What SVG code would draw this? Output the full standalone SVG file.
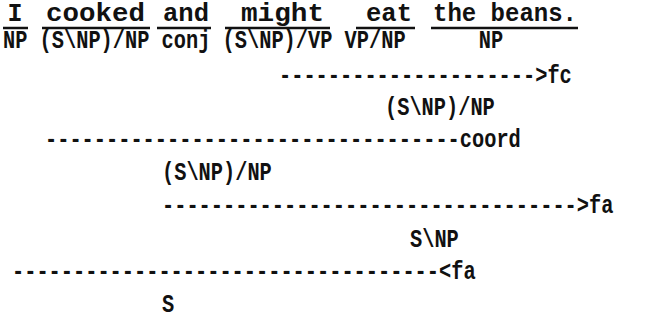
<svg xmlns="http://www.w3.org/2000/svg" width="655" height="327" viewBox="0 0 655 327">
  <style>
    text { font-family: "Liberation Mono", "Courier New", monospace; font-weight: bold; font-size: 25px; fill: #111; }
    .ul { stroke: #111; stroke-width: 2.5; }
  </style>
  <rect width="655" height="327" fill="#fff"/>

  <!-- lexical entries: word, underline, category -->
  <g id="w-i">
    <text x="15" y="21" text-anchor="middle">I</text>
    <line class="ul" x1="3" y1="28" x2="28" y2="28"/>
    <text x="3" y="48" textLength="24.4" lengthAdjust="spacingAndGlyphs">NP</text>
  </g>
  <g id="w-cooked">
    <text x="46" y="21" textLength="99" lengthAdjust="spacingAndGlyphs">cooked</text>
    <line class="ul" x1="42" y1="28" x2="150" y2="28"/>
    <text x="39.6" y="48" textLength="109.8" lengthAdjust="spacingAndGlyphs">(S\NP)/NP</text>
  </g>
  <g id="w-and">
    <text x="163" y="21" textLength="46" lengthAdjust="spacingAndGlyphs">and</text>
    <line class="ul" x1="157" y1="28" x2="211" y2="28"/>
    <text x="161.6" y="48" textLength="48.8" lengthAdjust="spacingAndGlyphs">conj</text>
  </g>
  <g id="w-might">
    <text x="241" y="21" textLength="83" lengthAdjust="spacingAndGlyphs">might</text>
    <line class="ul" x1="225" y1="28" x2="330" y2="28"/>
    <text x="222.6" y="48" textLength="109.8" lengthAdjust="spacingAndGlyphs">(S\NP)/VP</text>
  </g>
  <g id="w-eat">
    <text x="366" y="21" textLength="46" lengthAdjust="spacingAndGlyphs">eat</text>
    <line class="ul" x1="356" y1="28" x2="415" y2="28"/>
    <text x="344.6" y="48" textLength="61" lengthAdjust="spacingAndGlyphs">VP/NP</text>
  </g>
  <g id="w-beans">
    <text x="433" y="21" textLength="144" lengthAdjust="spacingAndGlyphs">the beans.</text>
    <line class="ul" x1="431" y1="28" x2="578" y2="28"/>
    <text x="478.8" y="48" textLength="24.4" lengthAdjust="spacingAndGlyphs">NP</text>
  </g>

  <!-- derived categories -->
  <g id="c-fc">
    <text x="385" y="115" textLength="109.8" lengthAdjust="spacingAndGlyphs">(S\NP)/NP</text>
  </g>
  <g id="c-coord">
    <text x="162" y="180" textLength="109.8" lengthAdjust="spacingAndGlyphs">(S\NP)/NP</text>
  </g>
  <g id="c-fa">
    <text x="410" y="247" textLength="48.8" lengthAdjust="spacingAndGlyphs">S\NP</text>
  </g>
  <g id="c-s">
    <text x="162" y="312" textLength="12.2" lengthAdjust="spacingAndGlyphs">S</text>
  </g>

  <!-- combination rules, typed as hyphen rows with the rule name -->
  <g id="rules">
    <text x="279" y="83" textLength="292.8" lengthAdjust="spacingAndGlyphs">---------------------&gt;fc</text>
    <text x="45" y="147" textLength="475.8" lengthAdjust="spacingAndGlyphs">----------------------------------coord</text>
    <text x="162" y="213" textLength="451.4" lengthAdjust="spacingAndGlyphs">----------------------------------&gt;fa</text>
    <text x="12" y="279" textLength="463.6" lengthAdjust="spacingAndGlyphs">-----------------------------------&lt;fa</text>
  </g>
</svg>
